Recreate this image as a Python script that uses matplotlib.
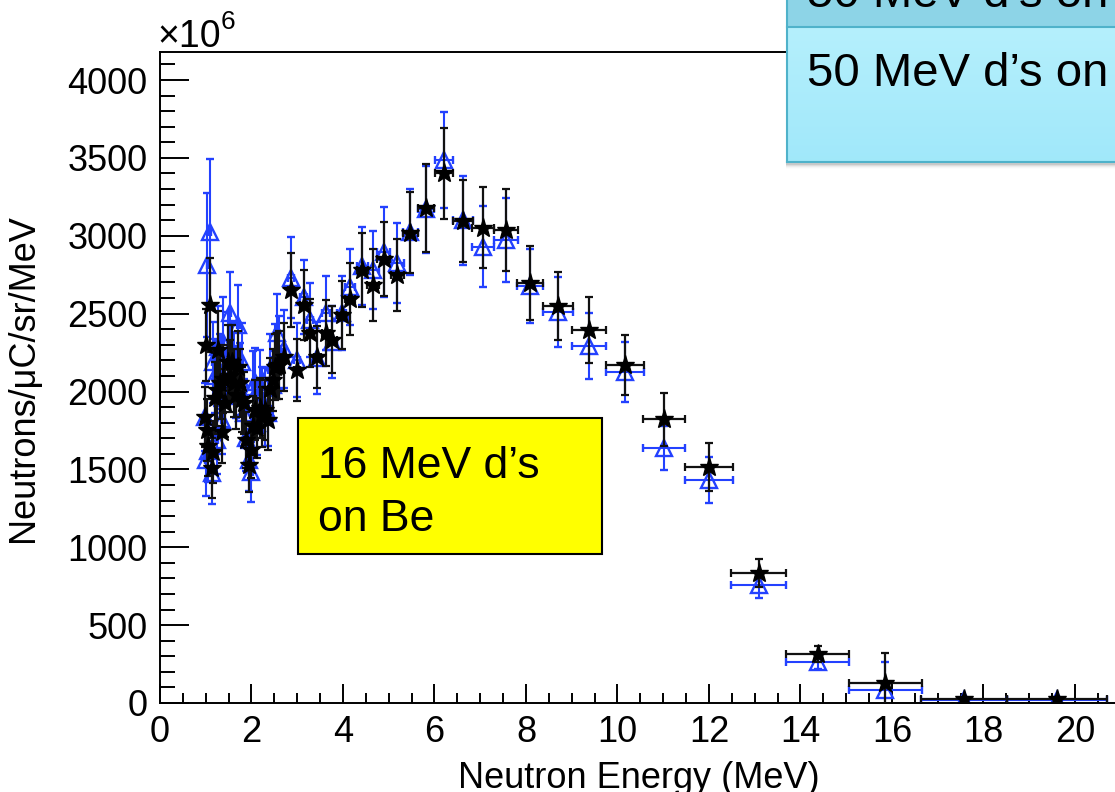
import numpy as np
import matplotlib
matplotlib.use("Agg")
import matplotlib.pyplot as plt
from matplotlib.patches import Rectangle
from matplotlib.lines import Line2D
from matplotlib.ticker import MultipleLocator

# neutron energy bins (MeV) shared by both runs, with half bin widths
energy = [0.98, 1.00, 1.03, 1.06, 1.09, 1.13, 1.16, 1.20, 1.24, 1.27,
          1.31, 1.35, 1.38, 1.42, 1.49, 1.53, 1.57, 1.61, 1.66, 1.71,
          1.75, 1.79, 1.84, 1.88, 1.95, 1.99, 2.04, 2.08, 2.13, 2.19,
          2.24, 2.30, 2.36, 2.41, 2.46, 2.51, 2.56, 2.61, 2.70, 2.86,
          3.00, 3.14, 3.28, 3.44, 3.62, 3.77, 3.97, 4.16, 4.42, 4.66,
          4.89, 5.19, 5.47, 5.82, 6.21, 6.62, 7.06, 7.56, 8.09, 8.70,
          9.38, 10.16, 11.02, 12.00, 13.09, 14.38, 15.85, 17.57, 19.60]
energy_err = [0.012, 0.013, 0.013, 0.014, 0.014, 0.015, 0.016, 0.017, 0.018, 0.018,
              0.019, 0.020, 0.021, 0.021, 0.023, 0.024, 0.025, 0.026, 0.027, 0.028,
              0.029, 0.030, 0.032, 0.033, 0.035, 0.036, 0.037, 0.038, 0.040, 0.041,
              0.043, 0.044, 0.046, 0.048, 0.049, 0.051, 0.052, 0.054, 0.056, 0.061,
              0.066, 0.071, 0.075, 0.081, 0.087, 0.093, 0.100, 0.108, 0.118, 0.128,
              0.137, 0.150, 0.162, 0.178, 0.196, 0.216, 0.238, 0.264, 0.292, 0.326,
              0.365, 0.41, 0.465, 0.53, 0.60, 0.69, 0.80, 0.94, 1.09]

# yields in units of 1e6 neutrons/uC/sr/MeV
flux_star = [1836, 2299, 1753, 1650, 2555, 1509, 1611, 1960, 2010, 2266,
             2055, 1740, 2080, 1926, 2189, 2100, 2189, 2055, 1980, 2157,
             2055, 1950, 1926, 1689, 1528, 1624, 1780, 1881, 1766, 1894,
             1836, 1881, 1817, 2016, 2074, 2157, 2164, 2170, 2222, 2652,
             2138, 2555, 2376, 2222, 2376, 2331, 2491, 2594, 2780, 2684,
             2851, 2748, 3018, 3178, 3400, 3095, 3050, 3037, 2697, 2549,
             2395, 2170, 1823, 1515, 835, 315, 128, 26, 26]
err_star = [190, 230, 200, 190, 300, 190, 200, 230, 230, 250,
            230, 200, 220, 220, 240, 230, 240, 220, 220, 230,
            220, 210, 200, 180, 170, 180, 190, 190, 190, 190,
            190, 190, 190, 200, 200, 210, 210, 220, 220, 240,
            200, 225, 220, 200, 210, 215, 220, 230, 240, 230,
            240, 230, 260, 280, 290, 265, 260, 265, 235, 220,
            210, 195, 170, 155, 90, 50, 195, 15, 15]

flux_tri = [1836, 1560, 2812, 1620, 3024, 1480, 2189, 2100, 1689, 2286,
            2130, 1820, 2318, 2000, 2250, 2504, 2200, 2150, 2060, 2427,
            2080, 2189, 1860, 1700, 1560, 1483, 2029, 2061, 1800, 2042,
            1945, 1900, 1860, 2138, 2042, 2202, 2376, 2247, 2273, 2729,
            2202, 2607, 2459, 2215, 2504, 2318, 2504, 2671, 2805, 2780,
            2895, 2825, 3024, 3170, 3486, 3100, 2928, 2973, 2677, 2510,
            2292, 2125, 1637, 1432, 758, 263, 83, 18, 18]
err_tri = [220, 230, 460, 200, 470, 200, 260, 240, 220, 260,
           240, 220, 290, 230, 260, 265, 240, 230, 230, 260,
           230, 250, 220, 210, 200, 190, 230, 220, 210, 225,
           210, 250, 210, 230, 220, 230, 250, 240, 250, 260,
           240, 240, 240, 230, 235, 230, 240, 245, 250, 250,
           290, 255, 275, 280, 310, 285, 260, 270, 240, 225,
           210, 190, 140, 145, 85, 45, 180, 12, 12]

plt.rcParams['font.family'] = ['Liberation Sans', 'DejaVu Sans']

W, H = 1115, 792
blue = '#2341ff'


def fx(x):
    return x / W


def fy(y):
    return 1 - y / H


fig = plt.figure(figsize=(W / 100, H / 100), dpi=100)
# the frame runs on past the right edge of the page
ax = fig.add_axes([fx(160), fy(703), (1139 - 160) / W, (703 - 52) / H])

ax.errorbar(energy, flux_tri, xerr=energy_err, yerr=err_tri, fmt='^',
            mfc='none', mec=blue, mew=1.7, ms=12, ecolor=blue,
            elinewidth=1.5, capsize=3, capthick=1.5, zorder=2)
ax.errorbar(energy, flux_star, xerr=energy_err, yerr=err_star, fmt='*',
            color='black', ms=14, ecolor='#111111',
            elinewidth=1.6, capsize=3, capthick=1.6, zorder=3)

ax.set_xlim(0, 21.4)
ax.set_ylim(0, 4180)
ax.xaxis.set_major_locator(MultipleLocator(2))
ax.xaxis.set_minor_locator(MultipleLocator(0.5))
ax.yaxis.set_major_locator(MultipleLocator(500))
ax.yaxis.set_minor_locator(MultipleLocator(100))
ax.tick_params(which='both', direction='in', top=False, right=False,
               labelsize=26, width=1.4, colors='black')
ax.tick_params(axis='y', which='major', length=21, pad=9)
ax.tick_params(axis='y', which='minor', length=10.5)
ax.tick_params(axis='x', which='major', length=14, pad=9)
ax.tick_params(axis='x', which='minor', length=7)
for s in ax.spines.values():
    s.set_linewidth(1.4)

# axis titles and exponent
fig.text(fx(639), fy(788), 'Neutron Energy (MeV)', fontsize=26,
         ha='center', va='baseline')
fig.text(fx(24), fy(378), 'Neutrons/\u03bcC/sr/MeV', fontsize=26,
         rotation=90, ha='center', va='center')
fig.text(fx(157), fy(47), '\u00d710', fontsize=27, va='baseline')
fig.text(fx(221), fy(29), '6', fontsize=19, va='baseline')

# yellow label box
fig.patches.append(Rectangle((fx(298), fy(554)), (602 - 298) / W, (554 - 418) / H,
                             transform=fig.transFigure, facecolor='#ffff00',
                             edgecolor='black', linewidth=1.5, zorder=5))
fig.text(fx(318), fy(478), '16 MeV d\u2019s', fontsize=32, va='baseline', zorder=6)
fig.text(fx(318), fy(531), 'on Be', fontsize=32, va='baseline', zorder=6)

# blue boxes in the top right corner, with a soft shadow underneath
for i, a in enumerate([0.09, 0.06, 0.04, 0.022, 0.01]):
    fig.patches.append(Rectangle((fx(786), fy(165 + i)), (W - 786) / W, (165 + i - 20) / H,
                                 transform=fig.transFigure, facecolor='black',
                                 edgecolor='none', alpha=a, zorder=4))
top = np.array([0.71, 0.94, 0.99])
bot = np.array([0.63, 0.91, 0.98])
t = np.linspace(0, 1, 135)[:, None, None]
grad = top * (1 - t) + bot * t
grad = np.repeat(grad, W - 787, axis=1)
fig.figimage(grad, xo=787, yo=H - 162, origin='upper', zorder=5)
fig.patches.append(Rectangle((fx(787), fy(27)), (W - 787) / W, 27 / H,
                             transform=fig.transFigure, facecolor='#8dd4e7',
                             edgecolor='none', zorder=6))
edge = '#4fb2ca'
fig.lines.append(Line2D([fx(787), fx(787)], [fy(162), fy(-5)], transform=fig.transFigure,
                        color=edge, lw=1.5, zorder=7))
fig.lines.append(Line2D([fx(787), fx(W)], [fy(162), fy(162)], transform=fig.transFigure,
                        color=edge, lw=1.5, zorder=7))
fig.lines.append(Line2D([fx(787), fx(W)], [fy(27), fy(27)], transform=fig.transFigure,
                        color=edge, lw=1.5, zorder=7))
fig.text(fx(807), fy(7), '50 MeV d\u2019s on', fontsize=34, va='baseline', zorder=8)
fig.text(fx(807), fy(86), '50 MeV d\u2019s on', fontsize=34, va='baseline', zorder=8)

fig.savefig('out.png', dpi=100)
